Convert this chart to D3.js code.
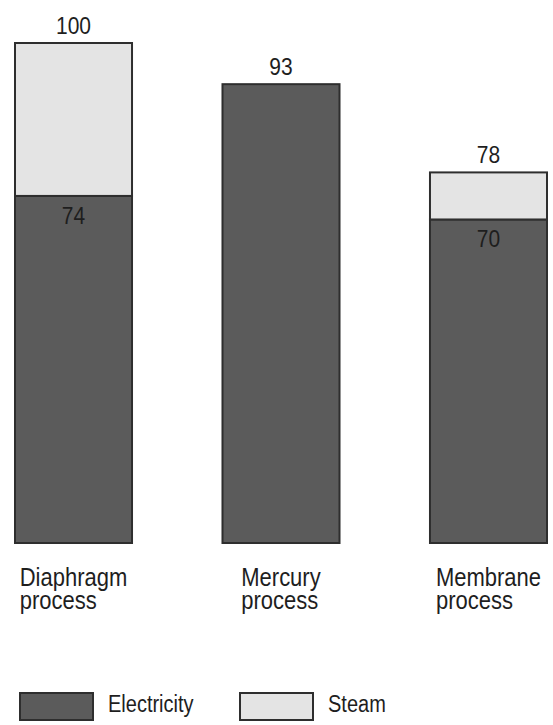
<!DOCTYPE html>
<html><head><meta charset="utf-8">
<script src="https://cdn.jsdelivr.net/npm/d3@7"></script>
<style>
html,body{margin:0;padding:0;background:#fff;}
text{font-family:"Liberation Sans",Arial,Helvetica,sans-serif;fill:#1e1e1e;}
</style></head>
<body>
<svg id="chart" width="553" height="725"></svg>
<script>
const categories = ["Diaphragm process", "Mercury process", "Membrane process"];
const electricity = [74, 93, 70];
const steam = [26, 0, 8];
const totals = [100, 93, 78];
const electricityLabels = ["74", null, "70"];
const totalLabels = ["100", "93", "78"];
const seriesNames = ["Electricity", "Steam"];

const colors = {Electricity: "#5b5b5b", Steam: "#e4e4e4"};
const stroke = "#2e2e2e";

const svg = d3.select("#chart");
const x = d3.scaleBand().domain(categories).range([15, 547]).paddingInner(0.436).paddingOuter(0);
const y = d3.scaleLinear().domain([15, 100]).range([543, 43]);

const rows = categories.map((c, i) => ({c, e: electricity[i], s: steam[i], t: totals[i], el: electricityLabels[i], tl: totalLabels[i]}));
const stack = d3.stack().keys(["e", "s"])(rows);

const g = svg.append("g");
stack.forEach((layer, li) => {
  g.selectAll(null).data(layer.filter(d => d[1] - d[0] > 0)).join("rect")
    .attr("x", d => x(d.data.c))
    .attr("width", x.bandwidth())
    .attr("y", d => y(Math.max(d[1], y.domain()[0])))
    .attr("height", d => y(Math.max(d[0], y.domain()[0])) - y(d[1]))
    .attr("fill", colors[seriesNames[li]])
    .attr("stroke", stroke)
    .attr("stroke-width", 2);
});

function stretchText(sel) {
  return sel.attr("transform", function() {
    const tx = +this.getAttribute("data-x"), ty = +this.getAttribute("data-y");
    return `translate(${tx},${ty}) scale(1,1.15)`;
  });
}

// total labels
g.selectAll(null).data(rows).join("text")
  .attr("data-x", d => x(d.c) + x.bandwidth() / 2)
  .attr("data-y", d => y(d.t) - 9)
  .attr("text-anchor", "middle")
  .attr("font-size", 21)
  .text(d => d.tl)
  .call(stretchText);

// electricity labels
g.selectAll(null).data(rows.filter(d => d.el)).join("text")
  .attr("data-x", d => x(d.c) + x.bandwidth() / 2)
  .attr("data-y", d => y(d.e) + 28)
  .attr("text-anchor", "middle")
  .attr("font-size", 21)
  .attr("fill", "#151515")
  .text(d => d.el)
  .call(stretchText);

// category labels (left-aligned block, centered under bar)
rows.forEach(d => {
  const lines = d.c.split(" ");
  const grp = g.append("g");
  const texts = lines.map((ln, k) => grp.append("text")
    .attr("font-size", 22)
    .attr("data-y", 586 + k * 23)
    .text(ln));
  const w = d3.max(texts, t => t.node().getComputedTextLength());
  const x0 = x(d.c) + x.bandwidth() / 2 - w / 2;
  texts.forEach(t => t.attr("data-x", x0).call(stretchText));
});

// legend
const legX = d3.scalePoint().domain(seriesNames).range([20, 240]);
const leg = svg.append("g");
seriesNames.forEach(n => {
  leg.append("rect")
    .attr("x", legX(n)).attr("y", 693)
    .attr("width", 73).attr("height", 27)
    .attr("fill", colors[n]).attr("stroke", stroke).attr("stroke-width", 2);
  leg.append("text")
    .attr("data-x", legX(n) + 88).attr("data-y", 712)
    .attr("font-size", 20)
    .text(n)
    .call(stretchText);
});
</script>
</body></html>
